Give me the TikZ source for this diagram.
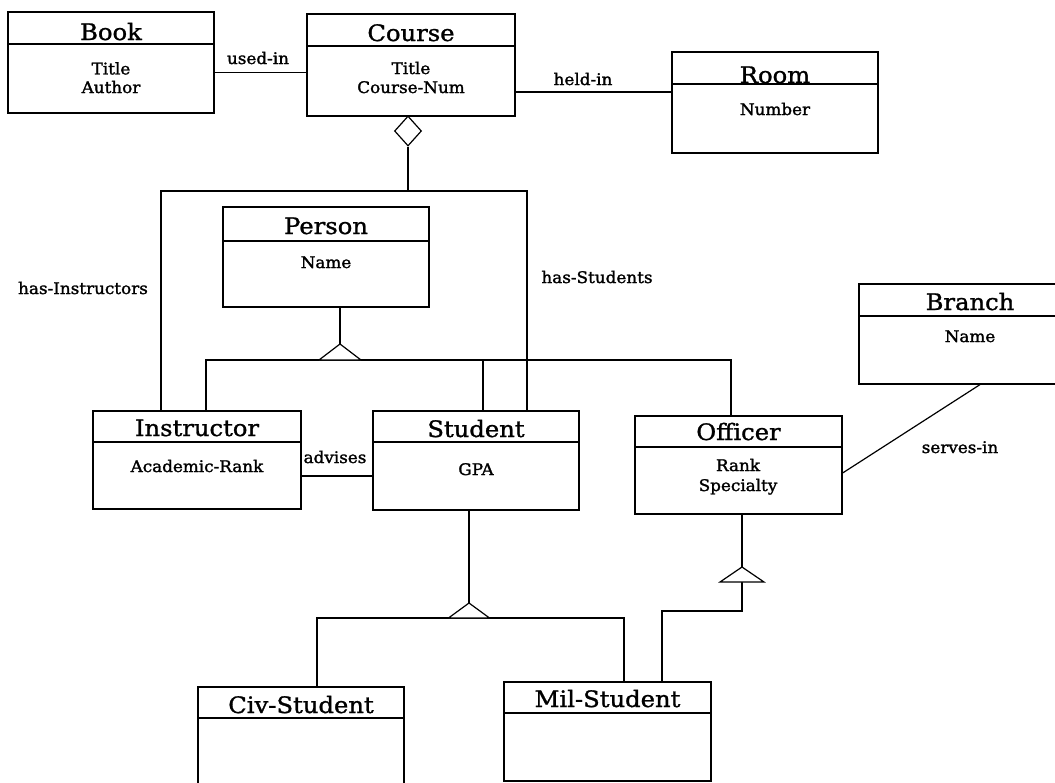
\documentclass[tikz,border=0pt]{standalone}
\usepackage{fontspec}
\setmainfont{DejaVu Serif}
\newfontfamily\classfont[FakeStretch=1.07,FakeBold=1.2]{DejaVu Serif}
\newfontfamily\labelfont[FakeStretch=1.05,FakeBold=1.6]{DejaVu Serif}
\usetikzlibrary{shapes.geometric}

% class box: name, left, top, right, bottom, header line y, title, title baseline y
\newcommand\umlclass[8]{%
  \node[classbox, minimum width={(#4-#2)*0.75pt}, minimum height={(#5-#3)*0.75pt}]
    (#1) at ({(#2+#4)/2},{(#3+#5)/2}) {};
  \draw (#1.west |- 0,#6) -- (#1.east |- 0,#6);
  \node[classtitle] (#1-title) at ({(#2+#4)/2},#8) {#7};
}

\begin{document}
\begin{tikzpicture}[x=0.75pt,y=-0.75pt,line width=0.9pt,
  classbox/.style={draw, rectangle, inner sep=0pt, fill=white},
  classtitle/.style={anchor=base, inner sep=0pt, font=\classfont\fontsize{17}{19}\selectfont},
  attr/.style={anchor=base, inner sep=0pt, font=\labelfont\fontsize{12}{14}\selectfont},
  rel/.style={anchor=base, inner sep=0pt, font=\labelfont\fontsize{12}{14}\selectfont},
  gentri/.style={draw, fill=white, line join=miter},
  aggmark/.style={draw, fill=white, diamond, inner sep=0pt, minimum width={27*0.75pt}, minimum height={30*0.75pt}}]
\useasboundingbox (0,0) rectangle (1055,782);
\clip (0,0) rectangle (1055,782);

% classes
\umlclass{book}{8}{12}{214}{113}{44}{Book}{40}
\umlclass{course}{307}{14}{515}{116}{46}{Course}{41}
\umlclass{room}{672}{52}{878}{153}{84}{Room}{83}
\umlclass{person}{223}{207}{429}{307}{241}{Person}{234}
\umlclass{instructor}{93}{411}{301}{509}{442}{Instructor}{436}
\umlclass{student}{373}{411}{579}{510}{442}{Student}{437}
\umlclass{officer}{635}{416}{842}{514}{447}{Officer}{440}
\umlclass{branch}{859}{284}{1081}{384}{316}{Branch}{310}
\umlclass{civ}{198}{687}{404}{800}{718}{Civ-Student}{713}
\umlclass{mil}{504}{682}{711}{781}{713}{Mil-Student}{707}

% attributes
\node[attr] (book-a1) at (111,74.4) {Title};
\node[attr] (book-a2) at (111,93) {Author};
\node[attr] (course-a1) at (411,74) {Title};
\node[attr] (course-a2) at (411,93) {Course-Num};
\node[attr] (room-a1) at (775,115) {Number};
\node[attr] (person-a1) at (326,268) {Name};
\node[attr] (instructor-a1) at (197,472) {Academic-Rank};
\node[attr] (student-a1) at (476,475) {GPA};
\node[attr] (officer-a1) at (738,471) {Rank};
\node[attr] (officer-a2) at (738,491) {Specialty};
\node[attr] (branch-a1) at (970,342) {Name};

% associations
\draw (book.east |- 0,72.7) -- (course.west |- 0,72.7);
\node[rel] (usedin) at (258,64) {used-in};
\draw (course.east |- 0,92) -- (room.west |- 0,92);
\node[rel] (heldin) at (583,85) {held-in};
\draw (instructor.east |- 0,476) -- (student.west |- 0,476);
\node[rel] (advises) at (335,463) {advises};
\draw (officer.east |- 0,473) -- (branch.south -| 980,0);
\node[rel] (servesin) at (960,453) {serves-in};

% aggregation: course has instructors and students
\node[aggmark] (agg) at (408,131) {};
\coordinate (aggjoin) at (408,191);
\draw (agg.south) -- (aggjoin);
\draw (aggjoin) -| (instructor.north -| 161,0);
\draw (aggjoin) -| (student.north -| 527,0);
\node[rel] (hasinstr) at (83,294) {has-Instructors};
\node[rel] (hasstud) at (597,283) {has-Students};

% generalization: person
\coordinate (g1-apex) at (340,344);
\coordinate (g1-left) at (206,360);
\coordinate (g1-right) at (731,360);
\draw (person.south -| g1-apex) -- (g1-apex);
\draw (instructor.north -| g1-left) -- (g1-left) -- (g1-right) -- (officer.north -| g1-right);
\draw (student.north -| 483,0) -- (483,360);
\draw[gentri] (g1-apex) -- (361,360) -- (319,360) -- cycle;

% generalization: student
\coordinate (g2-apex) at (469,603);
\coordinate (g2-left) at (317,618);
\coordinate (g2-right) at (624,618);
\draw (student.south -| g2-apex) -- (g2-apex);
\draw (civ.north -| g2-left) -- (g2-left) -- (g2-right) -- (mil.north -| g2-right);
\draw[gentri] (g2-apex) -- (489.5,618) -- (448.5,618) -- cycle;

% generalization: officer
\coordinate (g3-apex) at (742,567);
\coordinate (g3-base) at (742,582);
\draw (officer.south -| g3-apex) -- (g3-apex);
\draw (g3-base) -- (742,611) -- (662,611) -- (mil.north -| 662,0);
\draw[gentri] (g3-apex) -- (764,582) -- (720,582) -- cycle;
\end{tikzpicture}
\end{document}
